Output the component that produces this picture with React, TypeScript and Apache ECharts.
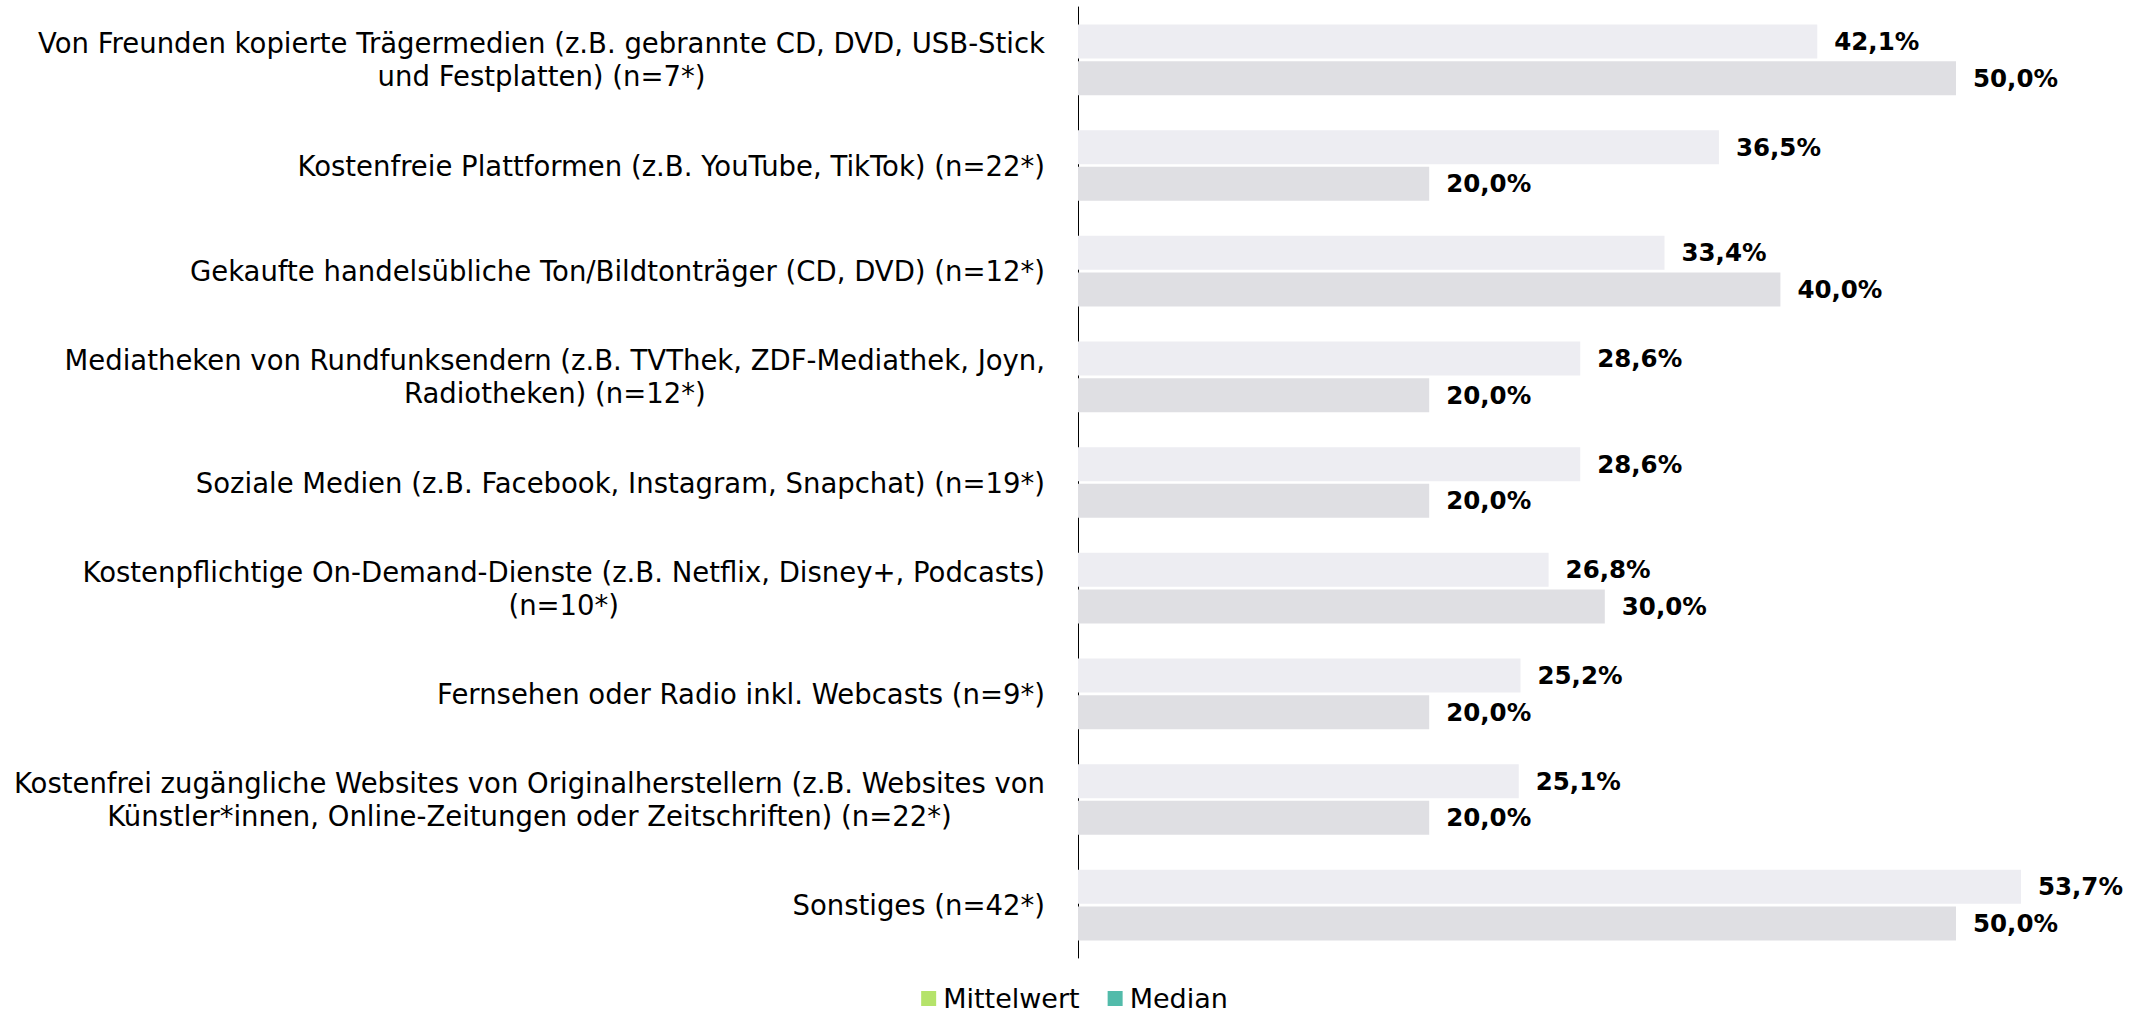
import React, { useEffect, useRef } from "react";
import * as echarts from "echarts";

const categories: string[][] = [
  ["Von Freunden kopierte Trägermedien (z.B. gebrannte CD, DVD, USB-Stick", "und Festplatten) (n=7*)"],
  ["Kostenfreie Plattformen (z.B. YouTube, TikTok) (n=22*)"],
  ["Gekaufte handelsübliche Ton/Bildtonträger (CD, DVD) (n=12*)"],
  ["Mediatheken von Rundfunksendern (z.B. TVThek, ZDF-Mediathek, Joyn,", "Radiotheken) (n=12*)"],
  ["Soziale Medien (z.B. Facebook, Instagram, Snapchat) (n=19*)"],
  ["Kostenpflichtige On-Demand-Dienste (z.B. Netflix, Disney+, Podcasts)", "(n=10*)"],
  ["Fernsehen oder Radio inkl. Webcasts (n=9*)"],
  ["Kostenfrei zugängliche Websites von Originalherstellern (z.B. Websites von", "Künstler*innen, Online-Zeitungen oder Zeitschriften) (n=22*)"],
  ["Sonstiges (n=42*)"],
];

const mittelwert: number[] = [42.1, 36.5, 33.4, 28.6, 28.6, 26.8, 25.2, 25.1, 53.7];
const median: number[] = [50.0, 20.0, 40.0, 20.0, 20.0, 30.0, 20.0, 20.0, 50.0];

const seriesNames = ["Mittelwert", "Median"];

const FONT = '"DejaVu Sans", "Liberation Sans", Arial, sans-serif';

export default function App() {
  const ref = useRef<HTMLDivElement>(null);

  useEffect(() => {
    if (!ref.current) return;
    const chart = echarts.init(ref.current, undefined, { renderer: "svg" });

    const fmt = (v: number) => v.toFixed(1).replace(".", ",") + "%";

    const labelStyle = {
      show: true,
      position: "right",
      distance: 17,
      fontSize: 24.5,
      fontWeight: "bold",
      color: "#000",
      fontFamily: FONT,
      formatter: (p: any) => fmt(p.value),
    };

    const option: any = {
      animation: false,
      backgroundColor: "#ffffff",
      textStyle: { fontFamily: FONT },
      grid: {
        left: 1078,
        top: 7,
        height: 951,
        width: 1053.6,
        containLabel: false,
        outerBoundsMode: "none",
      },
      legend: {
        data: seriesNames,
        top: 985,
        left: "center",
        padding: 0,
        icon: "rect",
        itemWidth: 15,
        itemHeight: 15,
        itemGap: 28,
        textStyle: { fontSize: 27, color: "#000", fontFamily: FONT, padding: [0, 0, 0, 2] },
      },
      xAxis: {
        type: "value",
        min: 0,
        max: 60,
        show: false,
      },
      yAxis: {
        type: "category",
        inverse: true,
        data: categories.map((c) => c.join("\n")),
        axisLine: { show: true, lineStyle: { color: "#000", width: 1 } },
        axisTick: { show: false },
        splitLine: { show: false },
        axisLabel: {
          margin: 33,
          fontSize: 27.5,
          color: "#000",
          fontFamily: FONT,
          align: "right",
          lineHeight: 33,
          formatter: (v: string) =>
            v
              .split("\n")
              .map((l) => "{c|" + l + "}")
              .join("\n"),
          rich: {
            c: {
              align: "center",
              fontSize: 27.5,
              lineHeight: 33,
              color: "#000",
              fontFamily: FONT,
            },
          },
        },
      },
      series: [
        {
          name: seriesNames[0],
          type: "bar",
          color: "#B5E36A",
          barWidth: 34,
          barGap: "8%",
          data: mittelwert.map((v) => ({ value: v, itemStyle: { color: "#EDEDF2" } })),
          label: labelStyle,
        },
        {
          name: seriesNames[1],
          type: "bar",
          color: "#52BBAA",
          barWidth: 34,
          barGap: "8%",
          data: median.map((v) => ({ value: v, itemStyle: { color: "#DFDFE3" } })),
          label: labelStyle,
        },
      ],
    };

    chart.setOption(option);
    return () => chart.dispose();
  }, []);

  return (
    <div
      ref={ref}
      style={{ position: "fixed", left: 0, top: 0, width: 2149, height: 1013, background: "#fff" }}
    />
  );
}
